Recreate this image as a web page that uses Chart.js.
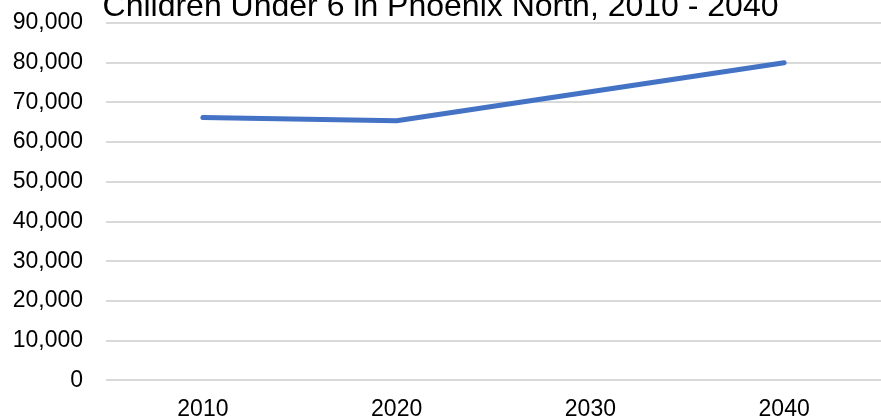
<!DOCTYPE html>
<html>
<head>
<meta charset="utf-8">
<script src="https://cdn.jsdelivr.net/npm/chart.js@4/dist/chart.umd.min.js"></script>
<style>
  html, body { margin: 0; padding: 0; background: #fff; overflow: hidden; }
  #wrap { position: relative; width: 881px; height: 418px; overflow: hidden; }
  #myChartLine { position: absolute; left: 0; top: -20px; }
</style>
</head>
<body>
<div id="wrap">
  <canvas id="myChartLine" width="881" height="458"></canvas>
</div>
<script>
// datos
const years = ['2010', '2020', '2030', '2040'];
const childrenUnder6 = [66200, 65400, 72700, 80000];
const yMin = 0;
const yMax = 90000;
const yStep = 10000;

const fontFamily = "'Liberation Sans', Arial, sans-serif";

new Chart(document.getElementById('myChartLine'), {
    type: 'line',
    data: {
        labels: years,
        datasets: [{
            label: 'Children Under 6',
            data: childrenUnder6,
            borderColor: '#4472C4',
            backgroundColor: '#4472C4',
            borderWidth: 5,
            borderCapStyle: 'round',
            borderJoinStyle: 'round',
            pointRadius: 0,
            tension: 0,
            fill: false
        }]
    },
    options: {
        responsive: false,
        maintainAspectRatio: false,
        animation: false,
        layout: {
            padding: { left: 0, right: 0, top: 0, bottom: 0 }
        },
        plugins: {
            legend: { display: false },
            tooltip: { enabled: false },
            title: {
                display: true,
                text: 'Children Under 6 in Phoenix North, 2010 - 2040',
                color: '#000',
                font: { family: fontFamily, size: 32, weight: 'normal', lineHeight: 1.0 },
                padding: { top: 11, bottom: 0 }
            }
        },
        scales: {
            x: {
                offset: true,
                grid: { display: false, drawTicks: false },
                border: { display: false },
                ticks: {
                    color: '#000',
                    font: { family: fontFamily, size: 23 },
                    padding: 15,
                    maxRotation: 0
                }
            },
            y: {
                min: yMin,
                max: yMax,
                afterFit: scale => { scale.width = 106; }, // ancho fijo del eje Y
                grid: { color: '#d9d9d9', lineWidth: 2, drawTicks: false },
                border: { display: false },
                ticks: {
                    stepSize: yStep,
                    color: '#000',
                    font: { family: fontFamily, size: 23 },
                    padding: 23,
                    callback: v => v.toLocaleString('en-US')
                }
            }
        }
    }
});
</script>
</body>
</html>
